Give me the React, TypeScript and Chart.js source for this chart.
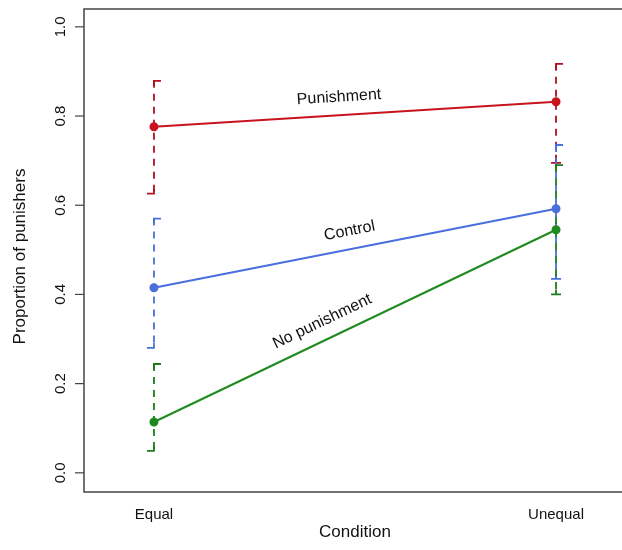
import { useEffect, useRef } from "react";
import { Chart, registerables } from "chart.js";

Chart.register(...registerables);

const conditions = ["Equal", "Unequal"];
const conditionX = [1, 2];
const seriesNames = ["Punishment", "Control", "No punishment"];
const punishment = [0.776, 0.832];
const punishmentLow = [0.626, 0.695];
const punishmentHigh = [0.879, 0.917];
const control = [0.415, 0.592];
const controlLow = [0.28, 0.435];
const controlHigh = [0.57, 0.735];
const noPunishment = [0.114, 0.545];
const noPunishmentLow = [0.049, 0.4];
const noPunishmentHigh = [0.244, 0.69];
const yTicks = [0, 0.2, 0.4, 0.6, 0.8, 1.0];
const yTickLabels = ["0.0", "0.2", "0.4", "0.6", "0.8", "1.0"];
const xTitle = "Condition";
const yTitle = "Proportion of punishers";

const lineColors = ["#c8141e", "#4a6fdc", "#1f8a1f"];
const barColors = ["#b01020", "#4a6fd8", "#1a7d1a"];
const labelT = [0.463, 0.495, 0.438];
const FONT = '"Liberation Sans", Arial, Helvetica, sans-serif';

export default function App() {
  const ref = useRef<HTMLCanvasElement | null>(null);

  useEffect(() => {
    if (!ref.current) return;
    const values = [punishment, control, noPunishment];
    const lows = [punishmentLow, controlLow, noPunishmentLow];
    const highs = [punishmentHigh, controlHigh, noPunishmentHigh];

    const decor = {
      id: "decor",
      beforeDatasetsDraw(chart: any) {
        const ctx = chart.ctx;
        const xs = chart.scales.x;
        const ys = chart.scales.y;
        ctx.save();
        for (let s = 0; s < values.length; s++) {
          ctx.strokeStyle = barColors[s];
          ctx.lineWidth = 1.8;
          for (let i = 0; i < conditionX.length; i++) {
            const px = xs.getPixelForValue(conditionX[i]);
            const top = ys.getPixelForValue(highs[s][i]);
            const bot = ys.getPixelForValue(lows[s][i]);
            ctx.setLineDash([7, 6]);
            ctx.beginPath();
            ctx.moveTo(px, top);
            ctx.lineTo(px, bot);
            ctx.stroke();
            ctx.setLineDash([]);
            ctx.beginPath();
            ctx.moveTo(px, top + 5);
            ctx.lineTo(px, top);
            ctx.lineTo(px + 7, top);
            ctx.stroke();
            ctx.beginPath();
            if (i === 0) {
              ctx.moveTo(px, bot - 5);
              ctx.lineTo(px, bot);
              ctx.lineTo(px - 7, bot);
            } else {
              ctx.moveTo(px, bot - 5);
              ctx.lineTo(px, bot);
              ctx.moveTo(px - 5, bot);
              ctx.lineTo(px + 5, bot);
            }
            ctx.stroke();
          }
        }
        ctx.restore();
      },
      afterDatasetsDraw(chart: any) {
        const ctx = chart.ctx;
        const xs = chart.scales.x;
        const ys = chart.scales.y;
        const area = chart.chartArea;
        ctx.save();
        ctx.fillStyle = "#111";
        ctx.font = `16px ${FONT}`;
        ctx.textAlign = "center";
        ctx.textBaseline = "middle";
        for (let s = 0; s < values.length; s++) {
          const x0 = xs.getPixelForValue(conditionX[0]);
          const y0 = ys.getPixelForValue(values[s][0]);
          const x1 = xs.getPixelForValue(conditionX[1]);
          const y1 = ys.getPixelForValue(values[s][1]);
          const a = Math.atan2(y1 - y0, x1 - x0);
          const t = labelT[s];
          const off = 18;
          const cx = x0 + (x1 - x0) * t + Math.sin(a) * off;
          const cy = y0 + (y1 - y0) * t - Math.cos(a) * off;
          ctx.save();
          ctx.translate(cx, cy);
          ctx.rotate(a);
          ctx.fillText(seriesNames[s], 0, 0);
          ctx.restore();
        }
        ctx.strokeStyle = "#444";
        ctx.lineWidth = 1.5;
        ctx.strokeRect(area.left, area.top, area.right - area.left, area.bottom - area.top);
        ctx.lineWidth = 1.2;
        ctx.font = `15px ${FONT}`;
        for (let i = 0; i < yTicks.length; i++) {
          const py = ys.getPixelForValue(yTicks[i]);
          ctx.beginPath();
          ctx.moveTo(area.left - 9, py);
          ctx.lineTo(area.left, py);
          ctx.stroke();
          ctx.save();
          ctx.translate(area.left - 23, py);
          ctx.rotate(-Math.PI / 2);
          ctx.fillText(yTickLabels[i], 0, 0);
          ctx.restore();
        }
        for (let i = 0; i < conditions.length; i++) {
          const px = xs.getPixelForValue(conditionX[i]);
          ctx.fillText(conditions[i], px, area.bottom + 23);
        }
        ctx.font = `17px ${FONT}`;
        ctx.fillText(xTitle, (area.left + area.right) / 2, area.bottom + 40);
        ctx.save();
        ctx.translate(20, (area.top + area.bottom) / 2 + 6);
        ctx.rotate(-Math.PI / 2);
        ctx.fillText(yTitle, 0, 0);
        ctx.restore();
        ctx.restore();
      },
    };

    const chart = new Chart(ref.current, {
      type: "line",
      data: {
        datasets: values.map((v, s) => ({
          label: seriesNames[s],
          data: conditionX.map((x, i) => ({ x, y: v[i] })),
          borderColor: lineColors[s],
          backgroundColor: lineColors[s],
          pointBackgroundColor: lineColors[s],
          pointBorderColor: lineColors[s],
          borderWidth: 2,
          pointRadius: 3.5,
          tension: 0,
          fill: false,
        })),
      },
      options: {
        responsive: false,
        animation: false,
        layout: { padding: { left: 84, top: 9, right: 14, bottom: 58 } },
        plugins: { legend: { display: false }, tooltip: { enabled: false } },
        scales: {
          x: { type: "linear", min: 0.826, max: 2.174, display: false },
          y: { type: "linear", min: -0.043, max: 1.04, display: false },
        },
      },
      plugins: [decor],
    });
    return () => chart.destroy();
  }, []);

  return (
    <div
      style={{
        position: "absolute",
        left: 0,
        top: 0,
        width: 622,
        height: 550,
        overflow: "hidden",
        background: "#fff",
      }}
    >
      <canvas ref={ref} width={640} height={550} style={{ display: "block" }} />
    </div>
  );
}
